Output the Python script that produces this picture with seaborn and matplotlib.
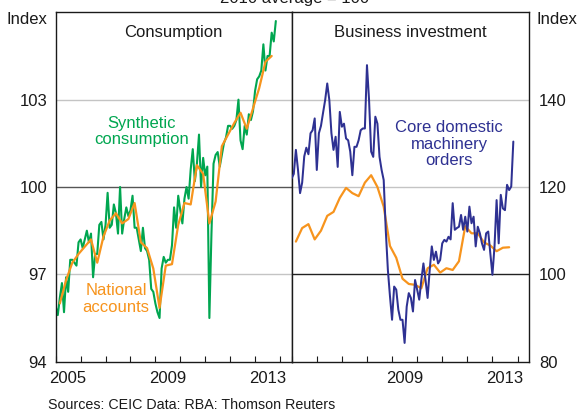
import numpy as np
import pandas as pd
import matplotlib
matplotlib.use("Agg")
import matplotlib.pyplot as plt
import seaborn as sns

sns.set_theme(style="white")
plt.rcParams["font.family"] = ["Liberation Sans", "DejaVu Sans"]

# ---------------- data ----------------
# Monthly series, Jan 2005 .. Nov 2013 (index, 2010 average = 100)
synthetic_consumption = [
    95.9, 95.6, 96.2, 96.7, 95.7, 96.9, 96.4, 97.5, 97.5, 97.4, 97.3, 98.1,
    98.2, 97.9, 98.2, 98.5, 98.1, 98.4, 96.9, 97.7, 97.7, 98.7, 98.8, 98.2,
    98.7, 99.8, 98.6, 98.7, 99.4, 99.1, 98.4, 100.0, 98.4, 98.9, 99.3, 99.0,
    99.2, 99.7, 98.6, 98.6, 98.2, 97.8, 98.6, 97.9, 97.8, 97.5, 96.5, 96.4,
    96.0, 95.7, 95.5, 97.2, 97.6, 97.4, 97.5, 97.5, 98.0, 99.3, 98.6, 99.7,
    99.2, 98.75, 99.6, 100.0, 99.6, 100.6, 101.3, 100.2, 100.8, 101.8, 100.0, 101.0,
    100.4, 100.7, 95.5, 98.4, 100.8, 101.1, 101.2, 100.7, 101.1, 101.5, 101.7, 102.1,
    102.1, 102.0, 102.1, 102.3, 103.0, 101.6, 101.3, 102.1, 101.8, 102.5, 102.3, 102.6,
    103.3, 103.7, 103.8, 104.0, 104.9, 104.0, 104.5, 104.5, 105.3, 105.0, 105.7,
]
machinery_orders = [
    122.0, 123.0, 128.5, 124.0, 118.6, 121.0, 127.0, 129.0, 127.5, 132.3, 133.0, 135.7,
    123.9, 132.3, 134.0, 137.0, 139.9, 143.7, 139.9, 132.3, 128.5, 131.5, 124.6, 137.2,
    133.8, 134.5, 131.1, 130.7, 128.1, 122.7, 129.2, 129.2, 130.7, 133.0, 133.4, 133.4,
    147.9, 139.9, 128.1, 126.9, 136.1, 134.5, 126.9, 123.9, 121.6, 110.0, 101.0, 95.0,
    89.6, 97.2, 96.5, 91.9, 89.6, 89.6, 84.3, 92.6, 95.7, 94.6, 91.5, 98.7,
    96.5, 94.2, 98.7, 102.5, 98.7, 94.6, 101.0, 106.4, 103.3, 105.2, 102.5, 103.3,
    107.1, 107.9, 107.5, 108.6, 108.0, 116.3, 110.2, 110.6, 110.9, 113.6, 110.2, 113.2,
    109.8, 115.5, 111.7, 113.2, 106.4, 110.9, 109.4, 107.1, 105.6, 109.4, 109.8, 104.8,
    99.9, 106.4, 117.0, 107.1, 118.2, 115.1, 114.7, 120.5, 119.3, 120.1, 130.4,
]
# Quarterly series, Q1 2005 .. Q3 2013
national_accounts = [
    96.0, 96.8, 97.4, 97.7, 97.95, 98.2, 97.4, 98.3, 98.85, 99.1, 98.75, 98.9,
    99.45, 98.1, 97.9, 97.2, 95.85, 97.3, 97.35, 98.7, 99.45, 99.4, 100.75, 100.45,
    98.75, 99.5, 101.4, 101.8, 102.2, 102.55, 102.0, 102.7, 103.4, 104.3, 104.5,
]
business_investment = [
    107.5, 110.6, 111.5, 108.0, 110.0, 113.4, 114.3, 117.5, 119.8, 118.6, 117.9, 121.0,
    122.7, 120.0, 115.5, 106.5, 103.8, 99.0, 97.8, 97.6, 96.8, 101.4, 102.2, 100.4,
    101.4, 101.0, 103.0, 111.0, 109.4, 109.4, 107.3, 106.6, 105.3, 106.1, 106.2,
]

year_ticks = list(range(2005, 2015))
left_year_labels = ["2005", "2009", "2013"]
right_year_labels = ["2009", "2013"]
left_yticks = [94, 97, 100, 103]
right_yticks = [80, 100, 120, 140]

GREEN = "#00A650"
ORANGE = "#F7941D"
NAVY = "#2E3192"
LIGHT = "#C4C4C4"
DARK = "#555555"

months = pd.date_range("2005-01-01", periods=len(synthetic_consumption), freq="MS")
quarters = pd.date_range("2005-03-01", periods=len(national_accounts), freq="3MS")


def dec_year(d):
    return d.year + (d.month - 1) / 12.0


df_m = pd.DataFrame({"t": dec_year(months), "synthetic": synthetic_consumption,
                     "machinery": machinery_orders})
df_q = pd.DataFrame({"t": dec_year(quarters), "national": national_accounts,
                     "business": business_investment})

W, H = 580, 411
fig = plt.figure(figsize=(W / 100, H / 100), dpi=100)
bottom = 1 - 361.7 / H
height = (361.7 - 12.3) / H
axL = fig.add_axes([55.7 / W, bottom, (291.7 - 55.7) / W, height])
axR = fig.add_axes([291.7 / W, bottom, (529.3 - 291.7) / W, height])

# gridlines
for y in [97, 103]:
    axL.axhline(y, color=LIGHT, lw=1.0, zorder=0.5)
axL.axhline(100, color=DARK, lw=1.0, zorder=0.6)
for y in [120, 140]:
    axR.axhline(y, color=LIGHT, lw=1.0, zorder=0.5)
axR.axhline(100, color="#222222", lw=1.0, zorder=0.6)

sns.lineplot(data=df_m, x="t", y="synthetic", ax=axL, color=GREEN, lw=1.5, zorder=2)
sns.lineplot(data=df_q, x="t", y="national", ax=axL, color=ORANGE, lw=1.6, zorder=3)
sns.lineplot(data=df_q, x="t", y="business", ax=axR, color=ORANGE, lw=1.6, zorder=2)
sns.lineplot(data=df_m, x="t", y="machinery", ax=axR, color=NAVY, lw=1.45, zorder=3)

FS = 12
for ax, ylim in [(axL, (94, 106)), (axR, (80, 160))]:
    ax.set_xlim(2005, 2014.47)
    ax.set_ylim(*ylim)
    ax.set_xlabel("")
    ax.set_ylabel("")
    for s in ax.spines.values():
        s.set_visible(True)
        s.set_color("#1a1a1a")
        s.set_linewidth(1.0)
    ax.set_xticks(year_ticks)
    ax.set_xticklabels([""] * len(year_ticks))
    ax.tick_params(axis="x", which="major", direction="in", length=4.5, width=0.8,
                   color="#1a1a1a", bottom=True, top=False)
    ax.set_facecolor("white")

axL.set_xticks([int(s) + 0.5 for s in left_year_labels], minor=True)
axL.set_xticklabels(left_year_labels, minor=True, fontsize=FS)
axR.set_xticks([int(s) + 0.5 for s in right_year_labels], minor=True)
axR.set_xticklabels(right_year_labels, minor=True, fontsize=FS)
for ax in (axL, axR):
    ax.tick_params(axis="x", which="minor", length=0, pad=7, labelcolor="#1a1a1a")

axL.set_yticks(left_yticks)
axL.set_yticklabels([str(v) for v in left_yticks], fontsize=FS)
axL.tick_params(axis="y", length=0, pad=6, left=True, right=False, labelcolor="#1a1a1a")
axR.set_yticks(right_yticks)
axR.set_yticklabels([str(v) for v in right_yticks], fontsize=FS)
axR.yaxis.tick_right()
axR.tick_params(axis="y", length=0, pad=7, left=False, right=True,
                labelleft=False, labelright=True, labelcolor="#1a1a1a")

# Index labels
axL.text(-0.034, 1.0, "Index", transform=axL.transAxes, ha="right", va="top",
         fontsize=FS, color="#1a1a1a")
axR.text(1.032, 1.0, "Index", transform=axR.transAxes, ha="left", va="top",
         fontsize=FS, color="#1a1a1a")

# panel titles
axL.text(0.5, 0.93, "Consumption", transform=axL.transAxes, ha="center",
         va="baseline", fontsize=FS, color="#1a1a1a")
axR.text(0.5, 0.93, "Business investment", transform=axR.transAxes, ha="center",
         va="baseline", fontsize=FS, color="#1a1a1a")

# series annotations
axL.text(0.362, 0.659, "Synthetic\nconsumption", transform=axL.transAxes,
         ha="center", va="center", fontsize=FS, color=GREEN, linespacing=1.15)
axL.text(0.255, 0.18, "National\naccounts", transform=axL.transAxes,
         ha="center", va="center", fontsize=FS, color=ORANGE, linespacing=1.15)
axR.text(0.662, 0.623, "Core domestic\nmachinery\norders", transform=axR.transAxes,
         ha="center", va="center", fontsize=FS, color=NAVY, linespacing=1.15)

# cut-off header and source
fig.text(0.508, 1 - 3.5 / H, "2010 average = 100", ha="center", va="baseline",
         fontsize=FS, color="#1a1a1a")
fig.text(48 / W, 1 - 405 / H, "Sources: CEIC Data: RBA: Thomson Reuters",
         ha="left", va="center", fontsize=10.3, color="#1a1a1a")

fig.savefig("out.png", dpi=100)
